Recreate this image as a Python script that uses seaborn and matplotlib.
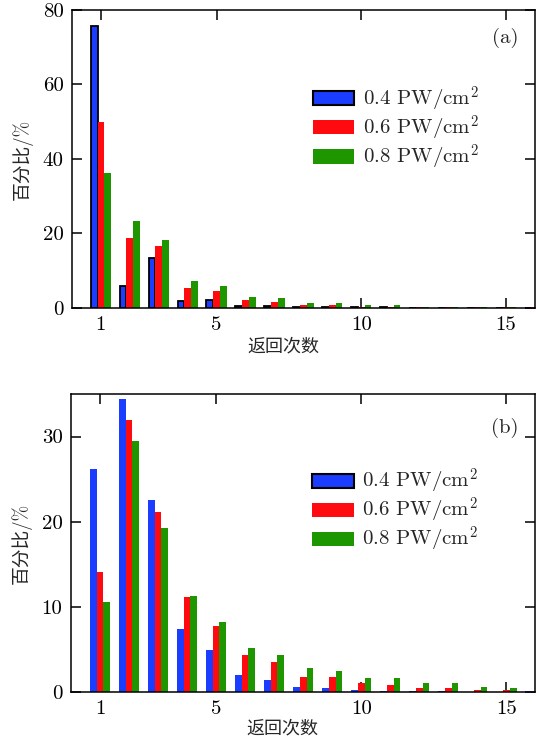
import numpy as np
import pandas as pd
import matplotlib
matplotlib.use("Agg")
import matplotlib.pyplot as plt
import seaborn as sns
from matplotlib.patches import Patch

# ---------------- data ----------------
returns = list(range(1, 17))
series = ["0.4 PW/cm$^2$", "0.6 PW/cm$^2$", "0.8 PW/cm$^2$"]

a_04 = [75.7, 5.8, 13.3, 1.8, 2.2, 0.5, 0.5, 0.3, 0.3, 0.1, 0.1, 0.05, 0.05, 0.05, 0.05, 0.05]
a_06 = [49.8, 18.8, 16.7, 5.3, 4.6, 2.1, 1.7, 0.8, 0.8, 0.2, 0.2, 0.2, 0.2, 0.2, 0.2, 0.2]
a_08 = [36.2, 23.4, 18.2, 7.2, 5.9, 2.9, 2.7, 1.4, 1.3, 0.7, 0.8, 0.3, 0.3, 0.2, 0.2, 0.1]

b_04 = [26.2, 34.4, 22.5, 7.4, 4.9, 2.0, 1.4, 0.6, 0.4, 0.2, 0.15, 0.05, 0.05, 0.03, 0.03, 0.05]
b_06 = [14.1, 32.0, 21.1, 11.1, 7.8, 4.3, 3.5, 1.8, 1.7, 1.0, 0.85, 0.5, 0.45, 0.2, 0.2, 0.05]
b_08 = [10.6, 29.5, 19.2, 11.25, 8.2, 5.2, 4.3, 2.8, 2.5, 1.6, 1.6, 1.0, 1.05, 0.6, 0.5, 0.05]

xticks = [1, 5, 10, 15]
a_yticks = [0, 20, 40, 60, 80]
b_yticks = [0, 10, 20, 30]
colors = ["#1a3dff", "#ff0a0f", "#1e9600"]

def make_df(v1, v2, v3):
    rows = []
    for s, vals in zip(series, [v1, v2, v3]):
        for r, v in zip(returns, vals):
            rows.append({"n": r, "pct": v, "I": s})
    return pd.DataFrame(rows)

# ---------------- style ----------------
sns.set_theme(style="ticks")
plt.rcParams["font.family"] = ["cmr10", "Noto Sans CJK SC", "DejaVu Sans"]
plt.rcParams["mathtext.fontset"] = "cm"
plt.rcParams["axes.formatter.use_mathtext"] = True
plt.rcParams["axes.unicode_minus"] = False

fig = plt.figure(figsize=(5.37, 7.40), dpi=100)
ax_a = fig.add_axes([0.134, 0.584, 0.862, 0.4025])
ax_b = fig.add_axes([0.132, 0.065, 0.865, 0.4026])

def draw(ax, df, yticks, ylim, tag, tagy, legy, edge_blue, xlab_y):
    sns.barplot(data=df, x="n", y="pct", hue="I", hue_order=series,
                palette=colors, native_scale=True, width=0.7,
                errorbar=None, ax=ax, legend=False, saturation=1)
    for i, cont in enumerate(ax.containers):
        for p in cont:
            if i == 0 and edge_blue:
                p.set_edgecolor("black")
                p.set_linewidth(1.3)
            else:
                p.set_edgecolor("none")
                p.set_linewidth(0)
    ax.set_xlim(0, 16)
    ax.set_ylim(*ylim)
    ax.set_xticks(xticks)
    ax.set_xticklabels([str(t) for t in xticks])
    ax.set_yticks(yticks)
    ax.set_yticklabels([str(t) for t in yticks])
    ax.tick_params(direction="in", top=True, right=True, length=7, width=1.1,
                   labelsize=15, pad=6, colors="black")
    for sp in ax.spines.values():
        sp.set_visible(True)
        sp.set_linewidth(1.1)
        sp.set_color("black")
    ax.set_xlabel("返回次数", fontsize=13, va="center")
    ax.xaxis.set_label_coords(0.456, xlab_y)
    ax.set_ylabel("百分比/%", fontsize=13.5)
    ax.yaxis.set_label_coords(-0.085, 0.5)
    ax.text(0.935, tagy, tag, transform=ax.transAxes, ha="center", va="center",
            fontsize=15)
    handles = [
        Patch(facecolor=colors[0], edgecolor="black", linewidth=1.5),
        Patch(facecolor=colors[1], edgecolor="none"),
        Patch(facecolor=colors[2], edgecolor="none"),
    ]
    ax.legend(handles, series, loc="upper left", bbox_to_anchor=(0.52, legy),
              frameon=False, fontsize=15, handlelength=2.0, handleheight=0.67,
              handletextpad=0.4, labelspacing=0.0, borderpad=0, borderaxespad=0)

draw(ax_a, make_df(a_04, a_06, a_08), a_yticks, (0, 80), "(a)", 0.906, 0.75, True, -0.13)
draw(ax_b, make_df(b_04, b_06, b_08), b_yticks, (0, 35), "(b)", 0.886, 0.755, False, -0.123)

fig.savefig("out.png", dpi=100)
